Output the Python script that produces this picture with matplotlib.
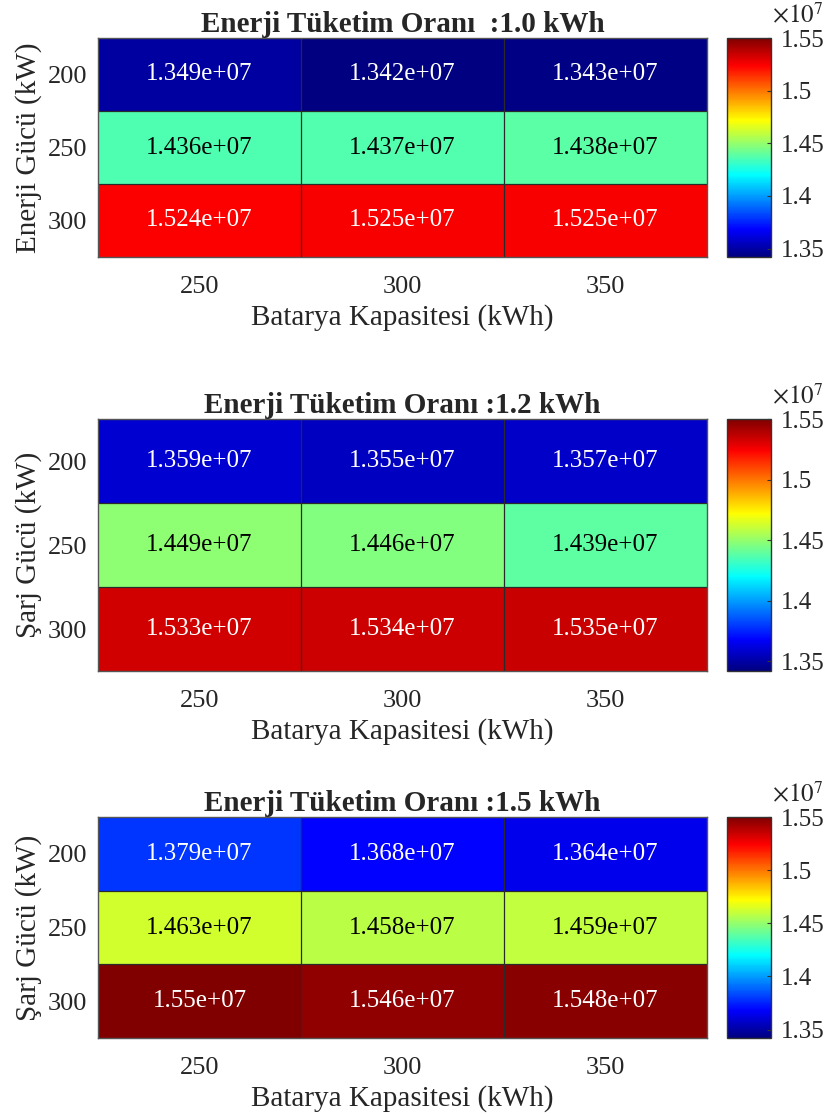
import numpy as np
import matplotlib
matplotlib.use("Agg")
import matplotlib.pyplot as plt
from matplotlib.colors import LinearSegmentedColormap

plt.rcParams['font.family'] = ['Liberation Serif', 'DejaVu Serif']
plt.rcParams['mathtext.fontset'] = 'stix'

capacities = ["250", "300", "350"]
powers = ["200", "250", "300"]
titles = ["Enerji Tüketim Oranı  :1.0 kWh",
          "Enerji Tüketim Oranı :1.2 kWh",
          "Enerji Tüketim Oranı :1.5 kWh"]
ylabels = ["Enerji Gücü (kW)", "Şarj Gücü (kW)", "Şarj Gücü (kW)"]
xlabel = "Batarya Kapasitesi (kWh)"

values_10 = [[1.349e7, 1.342e7, 1.343e7],
             [1.436e7, 1.437e7, 1.438e7],
             [1.524e7, 1.525e7, 1.525e7]]
values_12 = [[1.359e7, 1.355e7, 1.357e7],
             [1.449e7, 1.446e7, 1.439e7],
             [1.533e7, 1.534e7, 1.535e7]]
values_15 = [[1.379e7, 1.368e7, 1.364e7],
             [1.463e7, 1.458e7, 1.459e7],
             [1.550e7, 1.546e7, 1.548e7]]
cbar_ticks = [1.35e7, 1.40e7, 1.45e7, 1.50e7, 1.55e7]
cbar_labels = ["1.35", "1.4", "1.45", "1.5", "1.55"]

all_vals = np.array([values_10, values_12, values_15])
vmin, vmax = all_vals.min(), all_vals.max()

# MATLAB-style jet
jet_m = LinearSegmentedColormap('jet_matlab', {
    'red':   [(0, 0, 0), (0.375, 0, 0), (0.625, 1, 1), (0.875, 1, 1), (1, 0.5, 0.5)],
    'green': [(0, 0, 0), (0.125, 0, 0), (0.375, 1, 1), (0.625, 1, 1), (0.875, 0, 0), (1, 0, 0)],
    'blue':  [(0, 0.5, 0.5), (0.125, 1, 1), (0.375, 1, 1), (0.625, 0, 0), (1, 0, 0)],
}, N=256)

W, H = 825, 1117
fig = plt.figure(figsize=(W / 100, H / 100), dpi=100)

panels = [(38, 257), (419, 671), (817, 1038)]
left_px, right_px = 98, 707
cb_left, cb_right = 727, 771
txt = '#262626'

for vals, title, ylab, (t, b) in zip([values_10, values_12, values_15], titles, ylabels, panels):
    data = np.array(vals)
    ax = fig.add_axes([left_px / W, (H - b) / H, (right_px - left_px) / W, (b - t) / H])
    mesh = ax.pcolormesh(data, cmap=jet_m, vmin=vmin, vmax=vmax)
    for k in (1, 2):
        ax.axvline(k, color='#2a2a2a', lw=0.9)
        ax.axhline(k, color='#2a2a2a', lw=0.9)
    ax.set_xlim(0, 3)
    ax.set_ylim(3, 0)
    ax.set_xticks(np.arange(3) + 0.5)
    ax.set_xticklabels(capacities)
    ax.set_yticks(np.arange(3) + 0.5)
    ax.set_yticklabels(powers)
    ax.tick_params(length=0, labelsize=19, labelcolor=txt, pad=8)
    ax.tick_params(axis='x', pad=14)
    for s in ax.spines.values():
        s.set_color('#555555')
        s.set_linewidth(1.0)
    ax.set_title(title, fontsize=21, fontweight='bold', color=txt, pad=2)
    ax.set_xlabel(xlabel, fontsize=21, color=txt, labelpad=4)
    ax.set_ylabel(ylab, fontsize=21, color=txt, labelpad=4)
    norm = mesh.norm
    for i in range(3):
        for j in range(3):
            v = data[i, j]
            r, g, bb, _ = jet_m(norm(v))
            lum = 0.299 * r + 0.587 * g + 0.114 * bb
            col = 'black' if lum > 0.5 else 'white'
            ax.text(j + 0.5, i + 0.5, '{:.4g}'.format(v), ha='center', va='center',
                    fontsize=18, color=col)

    cax = fig.add_axes([cb_left / W, (H - b) / H, (cb_right - cb_left) / W, (b - t) / H])
    cb = fig.colorbar(mesh, cax=cax)
    cb.set_ticks(cbar_ticks)
    cb.set_ticklabels(cbar_labels)
    cb.ax.tick_params(direction='in', length=3, labelsize=18, labelcolor=txt, color='#333333', pad=7)
    cb.outline.set_edgecolor('#333333')
    cb.outline.set_linewidth(1.0)
    fig.text(772 / W, (H - t + 15) / H, r'$\times 10^{7}$', fontsize=18, color=txt,
             ha='left', va='baseline')

fig.savefig('out.png', dpi=100)
